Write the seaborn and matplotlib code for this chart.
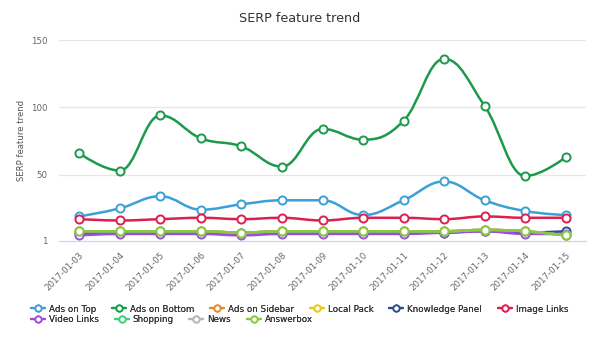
import numpy as np
import pandas as pd
import seaborn as sns
import matplotlib
matplotlib.use("Agg")
import matplotlib.pyplot as plt
from matplotlib.path import Path
from matplotlib.patches import PathPatch
from matplotlib.lines import Line2D

# ---------------- data ----------------
dates = ["2017-01-03", "2017-01-04", "2017-01-05", "2017-01-06", "2017-01-07",
         "2017-01-08", "2017-01-09", "2017-01-10", "2017-01-11", "2017-01-12",
         "2017-01-13", "2017-01-14", "2017-01-15"]
ads_on_top = [19, 25, 34, 24, 28, 31, 31, 20, 31, 45, 31, 23, 20]
ads_on_bottom = [66, 53, 94, 77, 71, 56, 84, 76, 90, 136, 101, 49, 63]
ads_on_sidebar = [8, 8, 8, 8, 7, 8, 8, 8, 8, 8, 9, 8, 5]
local_pack = [8, 8, 8, 8, 7, 8, 8, 8, 8, 8, 9, 8, 5]
knowledge_panel = [7, 7, 7, 7, 7, 7, 7, 7, 7, 7, 8, 7, 8]
image_links = [17, 16, 17, 18, 17, 18, 16, 18, 18, 17, 19, 18, 18]
video_links = [5, 6, 6, 6, 5, 6, 6, 6, 6, 7, 8, 6, 6]
shopping = [8, 8, 8, 8, 7, 8, 8, 8, 8, 8, 9, 8, 5]
news = [8, 8, 8, 8, 7, 8, 8, 8, 8, 8, 9, 8, 5]
answerbox = [8, 8, 8, 8, 7, 8, 8, 8, 8, 8, 9, 8, 5]

series_names = ["Ads on Top", "Ads on Bottom", "Ads on Sidebar", "Local Pack",
                "Knowledge Panel", "Image Links", "Video Links", "Shopping",
                "News", "Answerbox"]
series_values = [ads_on_top, ads_on_bottom, ads_on_sidebar, local_pack,
                 knowledge_panel, image_links, video_links, shopping, news, answerbox]
colors = ["#3aa0d8", "#1b9a4c", "#e48a2e", "#e6c81c", "#2b4f8f",
          "#dc1f4f", "#9b4fd6", "#3fcf7f", "#b5b5b5", "#8dc63f"]
y_ticks = [1, 50, 100, 150]

rows = []
for name, vals in zip(series_names, series_values):
    for i, (d, v) in enumerate(zip(dates, vals)):
        rows.append({"date": d, "idx": i, "series": name, "value": v})
df = pd.DataFrame(rows)

# ---------------- style ----------------
sns.set_style("white")
plt.rcParams["font.family"] = ["DejaVu Sans"]

fig = plt.figure(figsize=(6.0, 3.47), dpi=100)
ax = fig.add_axes([59 / 600, 1 - 240.7 / 347, 527 / 600, 200.7 / 347])

palette = dict(zip(series_names, colors))


def spline_path(xs, ys):
    """Highcharts-style smooth spline as cubic bezier path (in data coords)."""
    n = len(xs)
    sm, den = 1.5, 2.5
    lc = [None] * n
    rc = [None] * n
    for i in range(n):
        x, y = xs[i], ys[i]
        if 0 < i < n - 1:
            lx, ly = xs[i - 1], ys[i - 1]
            nx, ny = xs[i + 1], ys[i + 1]
            lcx = (sm * x + lx) / den
            lcy = (sm * y + ly) / den
            rcx = (sm * x + nx) / den
            rcy = (sm * y + ny) / den
            if rcx != lcx:
                corr = ((rcy - lcy) * (rcx - x)) / (rcx - lcx) + y - rcy
                lcy += corr
                rcy += corr
            if lcy > ly and lcy > y:
                lcy = max(ly, y)
                rcy = 2 * y - lcy
            elif lcy < ly and lcy < y:
                lcy = min(ly, y)
                rcy = 2 * y - lcy
            if rcy > ny and rcy > y:
                rcy = max(ny, y)
                lcy = 2 * y - rcy
            elif rcy < ny and rcy < y:
                rcy = min(ny, y)
                lcy = 2 * y - rcy
            lc[i] = (lcx, lcy)
            rc[i] = (rcx, rcy)
        else:
            lc[i] = (x, y)
            rc[i] = (x, y)
    verts = [(xs[0], ys[0])]
    codes = [Path.MOVETO]
    for i in range(1, n):
        verts += [rc[i - 1], lc[i], (xs[i], ys[i])]
        codes += [Path.CURVE4] * 3
    return Path(verts, codes)


for name in series_names:
    sub = df[df["series"] == name]
    p = spline_path(sub["idx"].to_numpy(float), sub["value"].to_numpy(float))
    patch = PathPatch(p, facecolor="none", edgecolor=palette[name], lw=1.8,
                      transform=ax.transData, zorder=2, capstyle="round",
                      joinstyle="round")
    ax.add_patch(patch)
    sns.scatterplot(data=sub, x="idx", y="value", ax=ax, color="white",
                    edgecolor=palette[name], linewidth=1.4, s=34, zorder=3,
                    legend=False)

ax.set_xlim(-0.5, len(dates) - 0.5)
ax.set_ylim(1, 150)
ax.set_yticks(y_ticks)
ax.set_yticklabels([str(t) for t in y_ticks], fontsize=6.2, color="#666666")
ax.set_xticks(range(len(dates)))
ax.set_xticklabels(dates, rotation=45, ha="right", rotation_mode="anchor",
                   fontsize=6.2, color="#666666")
ax.set_xticks(np.arange(-0.5, len(dates), 1.0), minor=True)
ax.tick_params(axis="x", which="major", length=0, pad=7)
ax.tick_params(axis="x", which="minor", length=5, width=0.8, color="#ccd6eb",
               direction="out")
ax.tick_params(axis="y", length=0, pad=8.6)

ax.grid(False)
for t in y_ticks[1:]:
    ax.axhline(t, color="#e6e6e6", lw=0.9, zorder=0)
for s in ["top", "right", "left"]:
    ax.spines[s].set_visible(False)
ax.spines["bottom"].set_color("#ccd6eb")
ax.spines["bottom"].set_linewidth(0.9)

ax.set_xlabel("")
ax.set_ylabel("SERP feature trend", fontsize=6.1, color="#555555")
ax.yaxis.set_label_coords((22 - 59) / 527, 0.5)
ax.yaxis.label.set_verticalalignment("center")

fig.text(0.5, 1 - 18 / 347, "SERP feature trend", ha="center", va="center",
         fontsize=9.2, color="#333333")

# ---------------- legend ----------------
def handle(c):
    return Line2D([0], [0], color=c, lw=1.6, marker="o", markersize=4.5,
                  markerfacecolor="white", markeredgecolor=c,
                  markeredgewidth=1.3)

row1 = list(range(6))
row2 = list(range(6, 10))
for idxs, yy in [(row1, 1 - 309 / 347), (row2, 1 - 320 / 347)]:
    leg = fig.legend([handle(colors[i]) for i in idxs],
                     [series_names[i] for i in idxs],
                     loc="center left", bbox_to_anchor=(31 / 600, yy),
                     ncol=len(idxs), frameon=False, fontsize=6.3,
                     handlelength=1.6, handletextpad=0.45, columnspacing=1.8,
                     borderpad=0, borderaxespad=0)
    for t in leg.get_texts():
        t.set_color("#333333")
    fig.add_artist(leg)

fig.savefig("out.png", dpi=100, facecolor="white")
